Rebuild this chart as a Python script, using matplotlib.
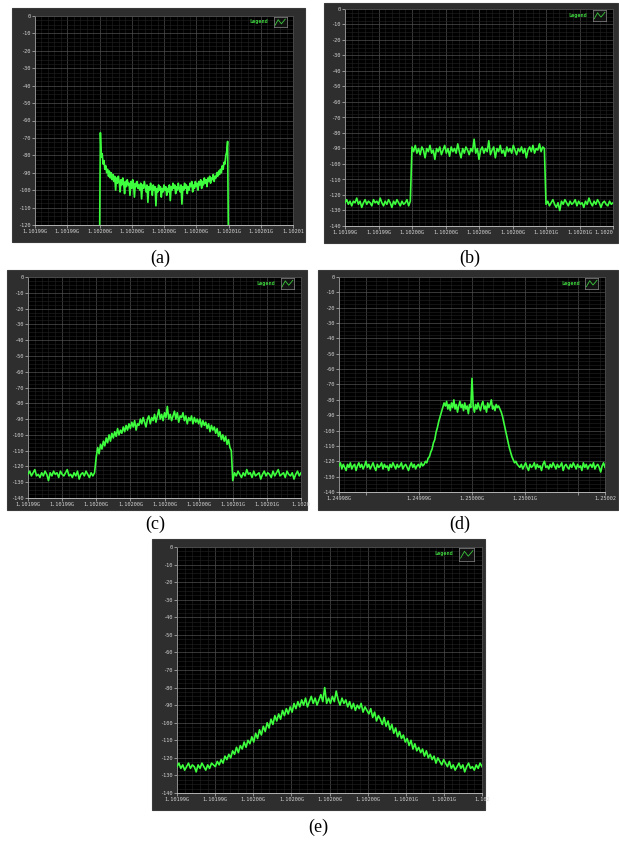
import numpy as np
import matplotlib
matplotlib.use('Agg')
import matplotlib.pyplot as plt
from matplotlib.patches import Rectangle
from matplotlib.ticker import MultipleLocator

plt.rcParams['axes.unicode_minus'] = False

# --- данные (dBm), частота в кГц относительно центра ---
x_tick_1102 = [-10, -7.5, -5, -2.5, 0, 2.5, 5, 7.5, 10]
x_lab_a = ['1.10199G', '1.10199G', '1.10200G', '1.10200G', '1.10200G',
           '1.10200G', '1.10201G', '1.10201G', '1.10201']
x_lab_bc = ['1.10199G', '1.10199G', '1.10200G', '1.10200G', '1.10200G',
            '1.10200G', '1.10201G', '1.10201G', '1.1020']
x_lab_e = ['1.10199G', '1.10199G', '1.10200G', '1.10200G', '1.10200G',
           '1.10200G', '1.10201G', '1.10201G', '1.102']
x_lab_d = ['1.24998G', '', '1.24999G', '1.25000G', '1.25001G', '', '1.25002']
x_tick_d = [-25, -20, -10, 0, 10, 20, 25]

# (a) полоса -5..5 кГц
a_y = [-135, -67, -81, -79, -85, -83, -88, -86, -90, -88, -92, -89, -93, -90, -94, -91,
       -95, -92, -100, -93, -96, -92, -95, -101, -94, -97, -93, -96, -102, -95, -98, -94,
       -97, -96, -103, -95, -99, -94, -97, -104, -96, -98, -95, -99, -97, -100, -96, -105,
       -97, -99, -95, -98, -101, -97, -107, -98, -100, -96, -99, -103, -97, -100, -98, -109,
       -99, -101, -97, -100, -98, -104, -99, -101, -97, -100, -98, -103, -99, -101, -97, -106,
       -98, -100, -96, -99, -97, -102, -98, -100, -96, -99, -101, -97, -108, -98, -100, -96,
       -99, -97, -102, -98, -100, -96, -98, -95, -101, -97, -99, -95, -98, -96, -100, -95,
       -97, -94, -99, -95, -97, -93, -96, -94, -98, -93, -95, -92, -96, -93, -94, -91,
       -95, -92, -93, -90, -92, -89, -91, -88, -90, -86, -88, -84, -85, -80, -78, -72, -135]

# (b) шум / прямоугольная полоса / шум
b_left = [-125, -123, -126, -124, -127, -124, -125, -122, -126, -124, -128, -125, -123, -126,
          -124, -125, -127, -123, -125, -124, -126, -122, -125, -127, -124, -126, -123, -125,
          -128, -124, -126, -123, -125, -127, -124, -126, -125, -123, -127, -124]
b_mid = [-89, -92, -88, -93, -90, -94, -89, -91, -96, -90, -92, -88, -93, -91, -97, -90,
         -92, -89, -94, -91, -88, -93, -90, -95, -89, -92, -90, -93, -87, -92, -96, -90,
         -93, -89, -91, -94, -90, -92, -84, -93, -90, -97, -91, -89, -93, -90, -92, -85,
         -94, -91, -89, -96, -90, -92, -88, -93, -91, -95, -89, -92, -90, -93, -88, -91,
         -94, -90, -92, -89, -93, -90, -96, -91, -89, -92, -88, -93, -90, -91, -87, -92,
         -89, -90]
b_right = [-126, -124, -127, -125, -123, -126, -128, -125, -130, -124, -126, -123, -125, -127,
           -124, -126, -125, -123, -127, -124, -126, -125, -128, -124, -126, -122, -125, -127,
           -124, -126, -123, -125, -128, -125, -124, -126, -127, -124, -126, -125]

# (c) шум / купол / шум
c_left = [-125, -123, -126, -124, -122, -126, -125, -127, -124, -126, -123, -125, -129, -124,
          -126, -123, -125, -124, -127, -123, -125, -126, -124, -122, -126, -125, -127, -124,
          -126, -123, -128, -125, -124, -126, -123, -125, -127, -124, -126, -124]
c_mid = [-114, -108, -112, -106, -109, -104, -107, -102, -105, -100, -104, -99,
         -102, -98, -101, -96, -100, -97, -99, -95, -98, -94, -97, -93,
         -96, -92, -95, -91, -97, -93, -94, -90, -93, -89, -92, -95,
         -90, -88, -93, -89, -91, -87, -92, -88, -84, -90, -87, -91,
         -86, -89, -82, -90, -87, -91, -88, -85, -90, -86, -92, -88,
         -89, -86, -91, -88, -93, -89, -91, -88, -93, -89, -92, -90,
         -93, -90, -95, -91, -94, -92, -96, -93, -98, -94, -97, -95,
         -99, -96, -101, -98, -103, -100, -104, -101, -106, -103, -108, -110]
c_right = [-129, -124, -126, -123, -125, -127, -124, -126, -122, -125, -124, -127, -123, -126,
           -125, -124, -128, -125, -123, -126, -124, -125, -127, -123, -126, -124, -122, -126,
           -125, -124, -127, -123, -125, -126, -124, -128, -125, -123, -126, -124]

# (d) 1.25 ГГц, -25..25 кГц
d_left = [-123, -121, -125, -122, -124, -126, -122, -124, -121, -125, -123, -122, -126, -123,
          -121, -124, -122, -125, -123, -120, -124, -122, -125, -123, -121, -124, -126, -122,
          -124, -123, -121, -125, -122, -124, -123, -126, -122, -124, -121, -123, -125, -122,
          -124, -123, -121, -125, -123, -122, -124, -126, -123, -121, -124, -122, -125, -123,
          -122, -124, -121, -123]
d_rise = [-122, -120, -121, -118, -117, -114, -112, -108, -106, -101, -98, -94, -91, -88, -85, -82]
d_top = [-84, -81, -86, -83, -87, -82, -85, -80, -86, -83, -88, -84, -81, -85, -83, -87,
         -82, -86, -84, -89, -83, -85, -66, -84, -88, -83, -86, -82, -85, -87, -83, -81,
         -86, -84, -88, -82, -85, -83, -80, -86, -84, -87, -83, -85]
d_fall = [-84, -86, -88, -91, -95, -99, -103, -107, -111, -114, -117, -119, -121, -120, -122, -123]
d_right = [-124, -122, -125, -123, -121, -124, -126, -122, -124, -123, -121, -125, -122, -124,
           -123, -126, -122, -120, -124, -123, -125, -122, -124, -121, -123, -125, -122, -124,
           -123, -121, -126, -123, -122, -124, -125, -122, -124, -121, -123, -125, -122, -124,
           -123, -126, -121, -124, -122, -125, -123, -122, -124, -121, -125, -123, -122, -124,
           -127, -123, -121, -124]

# (e) колокол -10..10 кГц
e_y = [-125, -123, -126, -124, -127, -125, -123, -126, -124, -125, -128, -124, -126, -123,
       -125, -127, -124, -126, -123, -124,
       -125, -122, -124, -121, -123, -119, -121, -118, -120, -116, -118, -114, -117, -113,
       -115, -111, -114, -110, -112, -108,
       -111, -106, -109, -104, -107, -102, -105, -100, -103, -98, -101, -96, -99, -95,
       -98, -93, -96, -92, -95, -91,
       -94, -89, -92, -88, -91, -87, -90, -86, -91, -88, -85, -89, -86, -90,
       -87, -84, -88, -80, -89, -86,
       -89, -85, -88, -82, -87, -90, -86, -89, -87, -91, -88, -92, -89, -93,
       -90, -92, -89, -94, -91, -93,
       -95, -92, -97, -94, -99, -96, -98, -101, -97, -102, -99, -104, -101, -106,
       -103, -108, -105, -109, -107, -111,
       -109, -113, -110, -115, -112, -116, -114, -117, -115, -119, -116, -120, -118, -121,
       -119, -123, -120, -122, -124, -121,
       -123, -125, -122, -126, -124, -127, -125, -123, -126, -124, -128, -125, -123, -126,
       -125, -127, -124, -126, -123, -125]


def sweep(edges, parts):
    xs = []
    for i, p in enumerate(parts):
        last = i == len(parts) - 1
        xs.append(np.linspace(edges[i], edges[i + 1], len(p), endpoint=last))
    return np.concatenate(xs), np.concatenate([np.asarray(p, float) for p in parts])


W, H = 619, 842
fig = plt.figure(figsize=(W / 100, H / 100), dpi=100)
fig.patch.set_facecolor('white')

# панели: рамка (px), поле графика (px), подпись
panels = [
    dict(frame=(12, 8, 305, 242), plot=(35, 16, 293, 225), label='(a)', lab_xy=(160, 258),
         data=sweep([-5, 5], [a_y]), ylim=-120, xt=x_tick_1102, xl=x_lab_a, xlim=(-10, 10), minor=0.5),
    dict(frame=(324, 3, 618, 243), plot=(345, 9, 613, 226), label='(b)', lab_xy=(470, 258),
         data=sweep([-10, -5, 5, 10], [b_left, b_mid, b_right]), ylim=-140,
         xt=x_tick_1102, xl=x_lab_bc, xlim=(-10, 10), minor=0.5, last_right=True),
    dict(frame=(7, 270, 307, 510), plot=(28, 277, 301, 498), label='(c)', lab_xy=(155, 524),
         data=sweep([-10, -5, 5, 10], [c_left, c_mid, c_right]), ylim=-140,
         xt=x_tick_1102, xl=x_lab_bc, xlim=(-10, 10), minor=0.5),
    dict(frame=(318, 270, 618, 510), plot=(339, 277, 605, 492), label='(d)', lab_xy=(460, 524),
         data=sweep([-25, -9, -5, 5, 9, 25], [d_left, d_rise, d_top, d_fall, d_right]), ylim=-140,
         xt=x_tick_d, xl=x_lab_d, xlim=(-25, 25), minor=2),
    dict(frame=(152, 539, 485, 810), plot=(177, 547, 482, 793), label='(e)', lab_xy=(318, 827),
         data=(np.linspace(-10, 10, len(e_y)), np.asarray(e_y, float)), ylim=-140,
         xt=x_tick_1102, xl=x_lab_e, xlim=(-10, 10), minor=0.5),
]

for p in panels:
    fx0, fy0, fx1, fy1 = p['frame']
    fr = Rectangle((fx0 / W, 1 - fy1 / H), (fx1 - fx0) / W, (fy1 - fy0) / H,
                   transform=fig.transFigure, facecolor='#2e2e2e', edgecolor='#3a3a3a',
                   lw=0.8, zorder=-5)
    fig.add_artist(fr)

    x0, y0, x1, y1 = p['plot']
    ax = fig.add_axes([x0 / W, 1 - y1 / H, (x1 - x0) / W, (y1 - y0) / H])
    ax.set_facecolor('black')
    x, y = p['data']
    ax.plot(x, y, color='#3dff3d', lw=1.2, zorder=3)

    ax.set_xlim(*p['xlim'])
    ax.set_ylim(p['ylim'], 0)
    ax.yaxis.set_major_locator(MultipleLocator(10))
    ax.yaxis.set_minor_locator(MultipleLocator(2.5))
    ax.set_xticks(p['xt'])
    ax.set_xticklabels(p['xl'])
    ax.xaxis.set_minor_locator(MultipleLocator(p['minor']))
    ax.set_axisbelow(True)
    ax.grid(which='major', color='#4e4e4e', lw=0.5)
    ax.grid(which='minor', color='#232323', lw=0.4)

    for s in ['top', 'right']:
        ax.spines[s].set_color('#505050')
        ax.spines[s].set_linewidth(0.5)
    ax.spines['left'].set_color('#9a9a9a')
    ax.spines['bottom'].set_color('#c8c8c8')
    ax.spines['left'].set_linewidth(0.6)
    ax.spines['bottom'].set_linewidth(0.6)

    ax.tick_params(which='major', length=2, width=0.5, color='#c0c0c0', labelsize=3.8,
                   labelcolor='#d2d2d2', pad=1.2)
    ax.tick_params(which='minor', length=0)
    for lbl in ax.get_xticklabels() + ax.get_yticklabels():
        lbl.set_family('DejaVu Sans Mono')
    if p.get('last_right'):
        ax.get_xticklabels()[-1].set_horizontalalignment('right')

    # легенда
    ax.text(0.905, 0.972, 'Legend', transform=ax.transAxes, ha='right', va='center',
            color='#3cc83c', fontsize=3.8, fontweight='bold', family='DejaVu Sans Mono')
    lg = ax.inset_axes([0.925, 0.945, 0.05, 0.05])
    lg.set_facecolor('#111111')
    lg.plot([0.1, 0.35, 0.6, 0.9], [0.2, 0.75, 0.35, 0.8], color='#3cc83c', lw=0.6)
    lg.set_xlim(0, 1)
    lg.set_ylim(0, 1)
    lg.set_xticks([])
    lg.set_yticks([])
    for s in lg.spines.values():
        s.set_color('#8a8a8a')
        s.set_linewidth(0.5)

    lx, ly = p['lab_xy']
    fig.text(lx / W, 1 - ly / H, p['label'], ha='center', va='center', fontsize=13,
             family='Liberation Serif')

fig.savefig('out.png', dpi=100, facecolor='white')
